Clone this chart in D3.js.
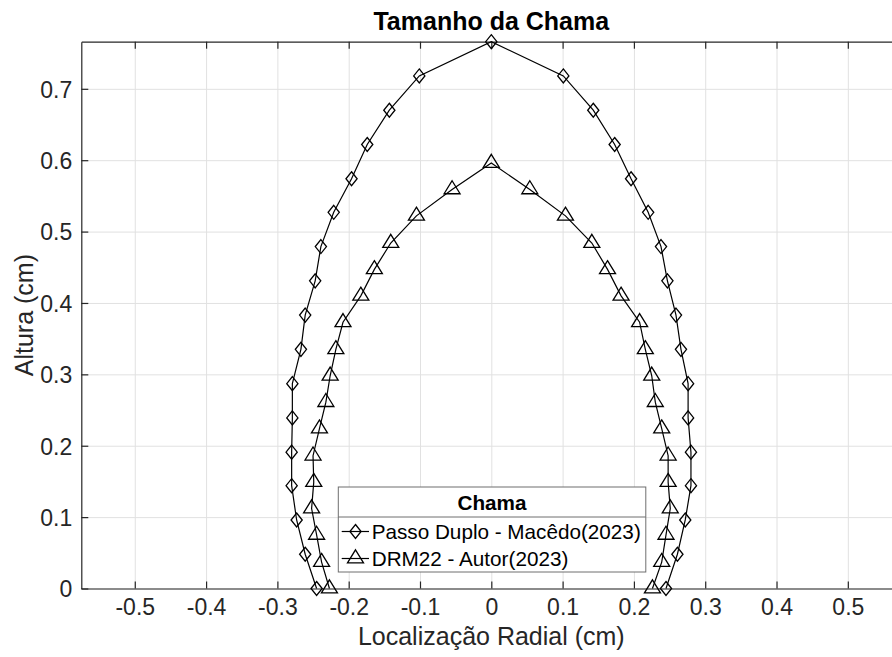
<!DOCTYPE html>
<html lang="pt">

<head>
    <meta charset="UTF-8">
    <script src="https://d3js.org/d3.v7.min.js"></script>
    <title>Tamanho da Chama</title>
    <style>
        body { margin: 0; background: #fff; }
        text { font-family: "Liberation Sans", Arial, Helvetica, sans-serif; }
    </style>
</head>

<body>
    <div id="my_chart"></div>
    <script>
        // Passo Duplo - Macêdo(2023): from bottom left, over the tip, down to bottom right
        var passoX = [-0.245, -0.261, -0.273, -0.280, -0.280, -0.279, -0.279, -0.267, -0.261, -0.247, -0.239, -0.221, -0.196, -0.174, -0.143, -0.101, 0,
            0.101, 0.143, 0.173, 0.196, 0.220, 0.238, 0.247, 0.259, 0.266, 0.276, 0.276, 0.280, 0.280, 0.272, 0.261, 0.245];
        var passoY = [0, 0.048, 0.096, 0.144, 0.191, 0.239, 0.287, 0.335, 0.383, 0.431, 0.479, 0.527, 0.574, 0.622, 0.670, 0.718, 0.766,
            0.718, 0.670, 0.622, 0.574, 0.527, 0.479, 0.431, 0.383, 0.335, 0.287, 0.239, 0.191, 0.144, 0.096, 0.048, 0];

        // DRM22 - Autor(2023)
        var drmX = [-0.227, -0.238, -0.245, -0.252, -0.249, -0.250, -0.241, -0.232, -0.226, -0.218, -0.208, -0.183, -0.164, -0.141, -0.105, -0.055, 0,
            0.054, 0.104, 0.141, 0.163, 0.182, 0.208, 0.216, 0.225, 0.230, 0.239, 0.248, 0.248, 0.251, 0.245, 0.239, 0.226];
        var drmY = [0, 0.037, 0.075, 0.112, 0.149, 0.186, 0.224, 0.261, 0.298, 0.335, 0.373, 0.410, 0.447, 0.484, 0.522, 0.559, 0.596,
            0.559, 0.522, 0.484, 0.447, 0.410, 0.373, 0.335, 0.298, 0.261, 0.224, 0.186, 0.149, 0.112, 0.075, 0.037, 0];

        var seriesNames = ["Passo Duplo - Macêdo(2023)", "DRM22 - Autor(2023)"];
        var xTicks = [-0.5, -0.4, -0.3, -0.2, -0.1, 0, 0.1, 0.2, 0.3, 0.4, 0.5];
        var yTicks = [0, 0.1, 0.2, 0.3, 0.4, 0.5, 0.6, 0.7];

        var W = 892, H = 657;
        var axL = 81.3, axR = 901.3, axT = 41.7, axB = 588.5;
        var axisColor = "#262626";

        var svg = d3.select("#my_chart")
            .append("svg")
            .attr("width", W)
            .attr("height", H);

        var x = d3.scaleLinear().domain([-0.575, 0.575]).range([axL, axR]);
        var y = d3.scaleLinear().domain([0, 0.766]).range([axB, axT]);

        // grid
        svg.append("g")
            .attr("transform", "translate(0," + axB + ")")
            .call(d3.axisBottom(x).tickValues(xTicks).tickSize(-(axB - axT)).tickFormat(""))
            .call(g => g.select(".domain").remove())
            .selectAll("line").attr("stroke", "#e1e1e1").attr("stroke-width", 1);
        svg.append("g")
            .attr("transform", "translate(" + axL + ",0)")
            .call(d3.axisLeft(y).tickValues(yTicks).tickSize(-(axR - axL)).tickFormat(""))
            .call(g => g.select(".domain").remove())
            .selectAll("line").attr("stroke", "#e1e1e1").attr("stroke-width", 1);

        // box and inward ticks
        var fmt = function (d) { return d === 0 ? "0" : d3.format(".1f")(d).replace("−", "-"); };

        var xAxis = svg.append("g")
            .attr("transform", "translate(0," + axB + ")")
            .call(d3.axisBottom(x).tickValues(xTicks).tickSizeInner(-7).tickSizeOuter(0).tickPadding(10).tickFormat(fmt));
        var xTop = svg.append("g")
            .attr("transform", "translate(0," + axT + ")")
            .call(d3.axisTop(x).tickValues(xTicks).tickSizeInner(-7).tickSizeOuter(0).tickFormat(""));
        var yAxis = svg.append("g")
            .attr("transform", "translate(" + axL + ",0)")
            .call(d3.axisLeft(y).tickValues(yTicks).tickSizeInner(-7).tickSizeOuter(0).tickPadding(9).tickFormat(fmt));

        [xAxis, xTop, yAxis].forEach(function (g) {
            g.select(".domain").attr("stroke", axisColor).attr("stroke-width", 1.2);
            g.selectAll(".tick line").attr("stroke", axisColor).attr("stroke-width", 1.2);
            g.selectAll(".tick text").attr("fill", axisColor).style("font-size", "23px");
        });
        yAxis.selectAll(".tick text").attr("dy", "0.36em");

        // marker shapes
        var diamond = "M0,-7L5.6,0L0,7L-5.6,0Z";
        var triangle = "M0,-8.7L8,4.3L-8,4.3Z";

        var line = d3.line().x(d => x(d[0])).y(d => y(d[1]));
        var passo = d3.zip(passoX, passoY);
        var drm = d3.zip(drmX, drmY);

        var plot = svg.append("g");
        [[passo, diamond], [drm, triangle]].forEach(function (s) {
            plot.append("path")
                .datum(s[0])
                .attr("d", line)
                .attr("fill", "none")
                .attr("stroke", "#000")
                .attr("stroke-width", 1.2);
            plot.selectAll(null)
                .data(s[0])
                .enter()
                .append("path")
                .attr("transform", d => "translate(" + x(d[0]) + "," + y(d[1]) + ")")
                .attr("d", s[1])
                .attr("fill", "none")
                .attr("stroke", "#000")
                .attr("stroke-width", 1.3);
        });

        // title and labels
        svg.append("text")
            .attr("x", x(0)).attr("y", 30)
            .attr("text-anchor", "middle")
            .style("font-size", "25px").style("font-weight", "bold")
            .attr("fill", "#000")
            .text("Tamanho da Chama");
        svg.append("text")
            .attr("x", x(0)).attr("y", 645)
            .attr("text-anchor", "middle")
            .style("font-size", "25px")
            .attr("fill", axisColor)
            .text("Localização Radial (cm)");
        svg.append("text")
            .attr("transform", "translate(33," + ((axT + axB) / 2) + ") rotate(-90)")
            .attr("text-anchor", "middle")
            .style("font-size", "25px")
            .attr("fill", axisColor)
            .text("Altura (cm)");

        // legend
        var lg = svg.append("g");
        lg.append("rect")
            .attr("x", 338.3).attr("y", 487).attr("width", 307.5).attr("height", 85)
            .attr("fill", "#fff").attr("stroke", "#6e6e6e").attr("stroke-width", 1);
        lg.append("line")
            .attr("x1", 338.3).attr("x2", 645.8).attr("y1", 517).attr("y2", 517)
            .attr("stroke", "#6e6e6e").attr("stroke-width", 1);
        lg.append("text")
            .attr("x", 492).attr("y", 509.5)
            .attr("text-anchor", "middle")
            .style("font-size", "20.7px").style("font-weight", "bold")
            .attr("fill", "#000")
            .text("Chama");
        [diamond, triangle].forEach(function (m, i) {
            var cy = 531.5 + i * 27;
            lg.append("line")
                .attr("x1", 341.7).attr("x2", 369).attr("y1", cy).attr("y2", cy)
                .attr("stroke", "#000").attr("stroke-width", 1.2);
            lg.append("path")
                .attr("transform", "translate(355.5," + cy + ")")
                .attr("d", m)
                .attr("fill", "none").attr("stroke", "#000").attr("stroke-width", 1.3);
            lg.append("text")
                .attr("x", 371.7).attr("y", cy + 7.5)
                .style("font-size", "20.7px")
                .attr("fill", "#000")
                .text(seriesNames[i]);
        });
    </script>
</body>

</html>
